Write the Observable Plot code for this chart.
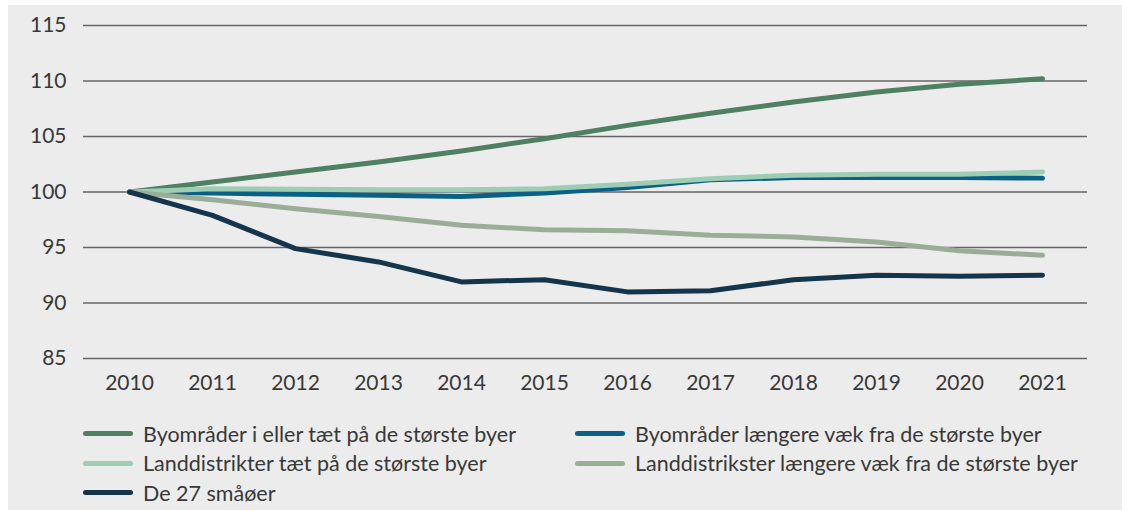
<!DOCTYPE html>
<html>
<head>
<meta charset="utf-8">
<script src="https://cdn.jsdelivr.net/npm/d3@7"></script>
<script src="https://cdn.jsdelivr.net/npm/@observablehq/plot@0.6"></script>
<style>
  html, body { margin: 0; padding: 0; background: #ffffff; }
  #panel { position: absolute; left: 8px; top: 5px; width: 1114px; height: 505px; background: #ececec; font-family: Lato, "Open Sans", sans-serif; }
  #legend { position: absolute; left: 75px; top: 414px; display: grid; grid-template-columns: 492px 510px; grid-auto-rows: 29.5px; }
  .item { display: flex; align-items: center; font-size: 21.5px; color: #383838; white-space: nowrap; }
  .sw { width: 50px; height: 5px; border-radius: 3px; margin-right: 10px; flex: none; }
</style>
</head>
<body>
<div id="panel"><div id="chart"></div><div id="legend"></div></div>
<script>
const years = [2010, 2011, 2012, 2013, 2014, 2015, 2016, 2017, 2018, 2019, 2020, 2021];
const seriesNames = [
  "Byområder i eller tæt på de største byer",
  "Byområder længere væk fra de største byer",
  "Landdistrikter tæt på de største byer",
  "Landdistrikster længere væk fra de største byer",
  "De 27 småøer"
];
const colors = ["#4f8062", "#0b6185", "#9dcdb4", "#9aad97", "#15354d"];
const byNaer    = [100, 100.9, 101.8, 102.7, 103.7, 104.8, 106.0, 107.1, 108.1, 109.0, 109.7, 110.2];
const byFjern   = [100, 99.9, 99.8, 99.7, 99.6, 99.9, 100.4, 101.1, 101.3, 101.3, 101.3, 101.25];
const landNaer  = [100, 100.3, 100.25, 100.2, 100.2, 100.3, 100.7, 101.2, 101.5, 101.6, 101.6, 101.8];
const landFjern = [100, 99.3, 98.5, 97.8, 97.0, 96.6, 96.5, 96.1, 95.95, 95.5, 94.7, 94.3];
const smaaoer   = [100, 97.9, 94.9, 93.7, 91.9, 92.1, 91.0, 91.1, 92.1, 92.5, 92.4, 92.5];
const yTicks = [85, 90, 95, 100, 105, 110, 115];

const allSeries = [byNaer, byFjern, landNaer, landFjern, smaaoer];
const data = [];
allSeries.forEach((vals, i) => vals.forEach((v, j) => data.push({year: years[j], value: v, series: seriesNames[i]})));

const plot = Plot.plot({
  width: 1114,
  height: 410,
  marginLeft: 75,
  marginRight: 35,
  marginTop: 20,
  marginBottom: 57,
  style: { background: "transparent", fontFamily: "Lato, 'Open Sans', sans-serif", fontSize: "21px", color: "#383838" },
  x: { type: "point", domain: years, padding: 0.5, label: null },
  y: { domain: [85, 115], label: null },
  color: { domain: seriesNames, range: colors },
  marks: [
    Plot.ruleY(yTicks, { stroke: "#666", strokeWidth: 1.3 }),
    Plot.lineY(data, { x: "year", y: "value", z: "series", stroke: "series", strokeWidth: 5, strokeLinecap: "round", strokeLinejoin: "round" }),
    Plot.axisX({ tickSize: 0, tickPadding: 17, tickFormat: d => String(d), label: null }),
    Plot.axisY({ ticks: yTicks, tickSize: 0, tickPadding: 17, label: null })
  ]
});
document.getElementById("chart").appendChild(plot);

const legend = document.getElementById("legend");
seriesNames.forEach((name, i) => {
  const it = document.createElement("div");
  it.className = "item";
  const sw = document.createElement("span");
  sw.className = "sw";
  sw.style.background = colors[i];
  it.appendChild(sw);
  it.appendChild(document.createTextNode(name));
  legend.appendChild(it);
});
</script>
</body>
</html>
